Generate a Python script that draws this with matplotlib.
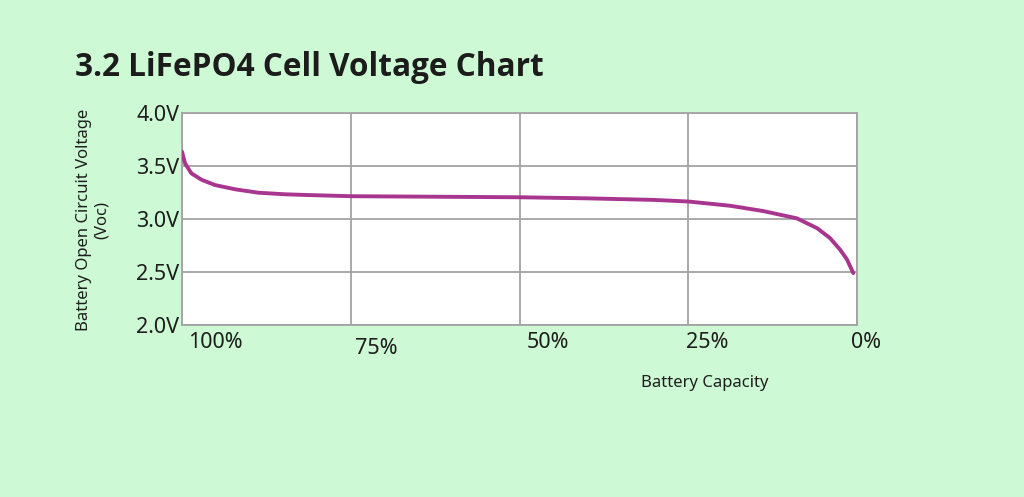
import matplotlib
matplotlib.use("Agg")
import matplotlib.pyplot as plt
from matplotlib.transforms import ScaledTranslation

plt.rcParams['font.family'] = ['Noto Sans', 'DejaVu Sans']

title = "3.2 LiFePO4 Cell Voltage Chart"
capacity = [100.0, 99.55, 98.6, 97.1, 95.1, 92.1, 88.7, 84.7, 81.3, 75.0, 62.0,
            50.0, 40.0, 30.0, 25.0, 18.8, 13.9, 8.9, 5.9, 4.0, 2.5, 1.5, 0.55]
voltage = [3.635, 3.525, 3.43, 3.37, 3.32, 3.28, 3.248, 3.233, 3.226, 3.215, 3.21,
           3.205, 3.195, 3.18, 3.165, 3.125, 3.075, 3.006, 2.913, 2.82, 2.71, 2.62, 2.49]
x_ticks = [100, 75, 50, 25, 0]
x_tick_labels = ["100%", "75%", "50%", "25%", "0%"]
y_ticks = [2.0, 2.5, 3.0, 3.5, 4.0]
y_tick_labels = ["2.0V", "2.5V", "3.0V", "3.5V", "4.0V"]

bg = "#CDFAD4"
fig = plt.figure(figsize=(10.24, 4.97), dpi=100, facecolor=bg)
ax = fig.add_axes([182/1024, 1 - 325/497, 675/1024, 212/497])
ax.set_facecolor("white")

ax.plot(capacity, voltage, color="#A8368F", lw=2.8, solid_capstyle="round",
        solid_joinstyle="round", zorder=3)

ax.set_xlim(100, 0)
ax.set_ylim(2.0, 4.0)
ax.set_xticks(x_ticks)
ax.set_xticklabels([])
ax.set_yticks(y_ticks)
ax.set_yticklabels(y_tick_labels, fontsize=15.5, color="#1e1e1e")
ax.tick_params(axis="both", length=0, pad=2)
ax.grid(True, color="#a3a3a3", lw=1.3)
for s in ax.spines.values():
    s.set_color("#a3a3a3")
    s.set_linewidth(1.3)

# x tick labels placed to the right of each grid line, as in the reference
offsets_px = [33, 25, 28, 19, 9]
dy_px = [-18, -24, -18, -18, -18]
for xv, lab, ox, oy in zip(x_ticks, x_tick_labels, offsets_px, dy_px):
    tr = ax.get_xaxis_transform() + ScaledTranslation(ox / 100, oy / 100, fig.dpi_scale_trans)
    ax.text(xv, 0, lab, transform=tr, ha="center", va="center", fontsize=15.5, color="#1e1e1e")

fig.text(705/1024, 1 - 383/497, "Battery Capacity", ha="center", va="center",
         fontsize=12, color="#1e1e1e")
fig.text(93/1024, 1 - 220/497, "Battery Open Circuit Voltage\n(Voc)", ha="center", va="center",
         rotation=90, fontsize=12, color="#1e1e1e", linespacing=1.15)
fig.text(75/1024, 1 - 67/497, title, ha="left", va="center", fontsize=22.7,
         fontweight="bold", family=["Open Sans", "DejaVu Sans"], color="#1c1c1c")

fig.savefig("out.png", dpi=100, facecolor=bg)
